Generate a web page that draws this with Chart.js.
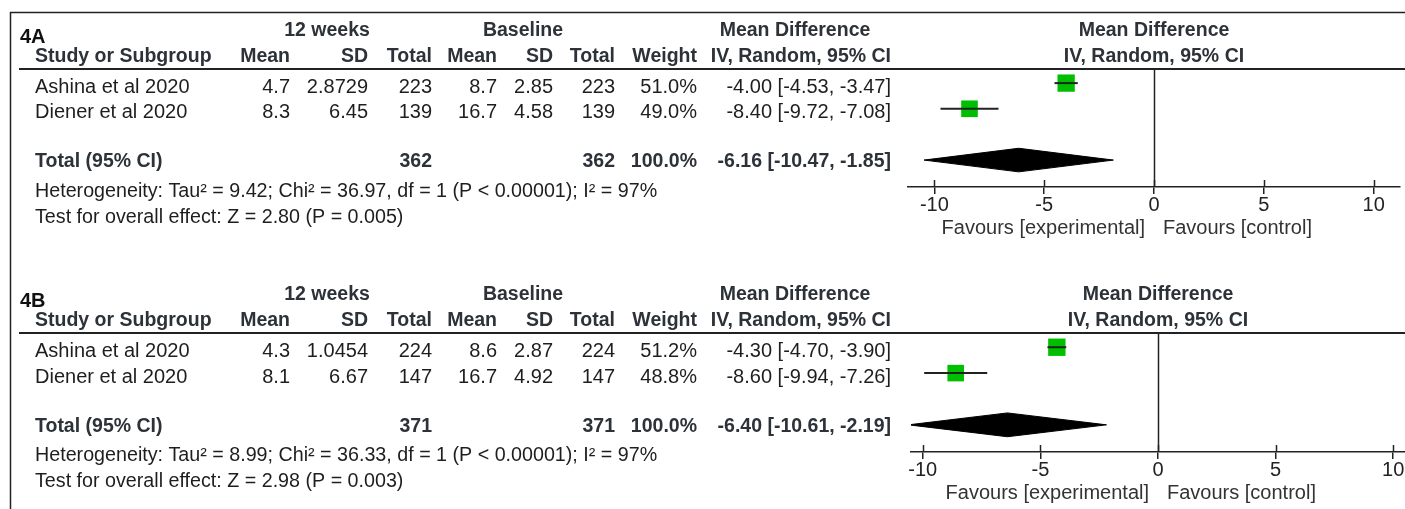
<!DOCTYPE html>
<html>
<head>
<meta charset="utf-8">
<script src="https://cdn.jsdelivr.net/npm/chart.js@4.4.1/dist/chart.umd.min.js"></script>
<style>
  html, body { margin:0; padding:0; background:#fff; }
  #wrap { position:relative; width:1405px; height:509px; overflow:hidden; }
  canvas { position:absolute; left:0; }
  #panelA { top:0; }
  #panelB { top:264px; }
</style>
</head>
<body>
<div id="wrap">
  <canvas id="panelA" width="1405" height="264"></canvas>
  <canvas id="panelB" width="1405" height="245"></canvas>
</div>
<script>
// ===== data =====
const studies = ["Ashina et al 2020", "Diener et al 2020"];
const xTicks = [-10, -5, 0, 5, 10];

// 4A
const expMeanA = [4.7, 8.3];
const expSdA = [2.8729, 6.45];
const expNA = [223, 139];
const baseMeanA = [8.7, 16.7];
const baseSdA = [2.85, 4.58];
const baseNA = [223, 139];
const weightA = [51.0, 49.0];
const mdA = [-4.00, -8.40];
const loA = [-4.53, -9.72];
const hiA = [-3.47, -7.08];
const totalA = [-6.16, -10.47, -1.85]; // estimate, lower, upper
const hetA = [9.42, 36.97, 1, 97];     // tau², chi², df, I²
const zA = 2.80, pA = "0.005";

// 4B
const expMeanB = [4.3, 8.1];
const expSdB = [1.0454, 6.67];
const expNB = [224, 147];
const baseMeanB = [8.6, 16.7];
const baseSdB = [2.87, 4.92];
const baseNB = [224, 147];
const weightB = [51.2, 48.8];
const mdB = [-4.30, -8.60];
const loB = [-4.70, -9.94];
const hiB = [-3.90, -7.26];
const totalB = [-6.40, -10.61, -2.19];
const hetB = [8.99, 36.33, 1, 97];
const zB = 2.98, pB = "0.003";

// ===== styling =====
const FONT = '"Liberation Sans", Arial, sans-serif';
const INK = "#1e1e1e";
const HEAD = "#2d3238";
const GREEN = "#00bf00";
const DIAMOND_H = 0.46;
const cols = { mean1: 290, sd1: 368, n1: 432, mean2: 497, sd2: 553, n2: 615, weight: 697, ci: 891 };

function put(ctx, s, x, y, align, bold, color, size) {
  ctx.font = (bold ? "bold " : "") + size + "px " + FONT;
  ctx.textAlign = align;
  ctx.textBaseline = "middle";
  ctx.fillStyle = color;
  ctx.fillText(s, x, y);
}
const ci = (m, l, h) => m.toFixed(2) + " [" + l.toFixed(2) + ", " + h.toFixed(2) + "]";

function makePanel(id, p) {
  const datasets = [];
  p.md.forEach((v, i) => {
    datasets.push({
      data: [{x: p.lo[i], y: i + 1}, {x: p.hi[i], y: i + 1}],
      borderColor: "#222", borderWidth: 2, pointRadius: 0, fill: false
    });
  });
  datasets.push({
    data: p.md.map((v, i) => ({x: v, y: i + 1})),
    showLine: false, pointStyle: "rect",
    pointRadius: p.weight.map(w => w / 50 * 12),
    pointBackgroundColor: GREEN, pointBorderWidth: 0, borderWidth: 0
  });
  const [est, lo, hi] = p.total;
  datasets.push({
    data: [{x: lo, y: 4}, {x: est, y: 4 - DIAMOND_H}, {x: hi, y: 4}, {x: est, y: 4 + DIAMOND_H}, {x: lo, y: 4}],
    borderColor: "#000", backgroundColor: "#000", borderWidth: 1,
    pointRadius: 0, fill: "shape", tension: 0
  });

  const table = {
    id: "forestTable",
    beforeDatasetsDraw(chart) {
      const ctx = chart.ctx, a = chart.chartArea;
      const x0 = Math.round(chart.scales.x.getPixelForValue(0)) + 0.5;
      ctx.save();
      ctx.strokeStyle = "#222"; ctx.lineWidth = 1.5;
      ctx.beginPath(); ctx.moveTo(x0, a.top); ctx.lineTo(x0, a.bottom); ctx.stroke();
      ctx.restore();
    },
    afterDraw(chart) {
      const ctx = chart.ctx, a = chart.chartArea, xs = chart.scales.x, ys = chart.scales.y;
      const T = a.top;
      ctx.save();
      // frame
      ctx.strokeStyle = "#222"; ctx.lineWidth = 1.5;
      ctx.beginPath();
      if (p.frameTop) { ctx.moveTo(10, 12.5); ctx.lineTo(1405, 12.5); ctx.moveTo(10.5, 12); }
      else ctx.moveTo(10.5, 0);
      ctx.lineTo(10.5, chart.height);
      ctx.stroke();
      // header rule
      ctx.lineWidth = 2;
      ctx.beginPath(); ctx.moveTo(19, T); ctx.lineTo(1405, T); ctx.stroke();
      // upper halves of the tick marks
      ctx.lineWidth = 1.5;
      xTicks.forEach(v => {
        const x = Math.round(xs.getPixelForValue(v)) + 0.5;
        ctx.beginPath(); ctx.moveTo(x, a.bottom - 7); ctx.lineTo(x, a.bottom); ctx.stroke();
      });

      // headings
      put(ctx, p.label, 20, T - 32, "left", true, "#111", 20);
      put(ctx, "12 weeks", 327, T - 38, "center", true, HEAD, 19.5);
      put(ctx, "Baseline", 523, T - 38, "center", true, HEAD, 19.5);
      put(ctx, "Mean Difference", 795, T - 38, "center", true, HEAD, 19.5);
      const mid = (a.left + a.right) / 2;
      put(ctx, "Mean Difference", mid, T - 38, "center", true, HEAD, 19.5);
      put(ctx, "Study or Subgroup", 35, T - 12, "left", true, HEAD, 19.5);
      put(ctx, "Mean", cols.mean1, T - 12, "right", true, HEAD, 19.5);
      put(ctx, "SD", cols.sd1, T - 12, "right", true, HEAD, 19.5);
      put(ctx, "Total", cols.n1, T - 12, "right", true, HEAD, 19.5);
      put(ctx, "Mean", cols.mean2, T - 12, "right", true, HEAD, 19.5);
      put(ctx, "SD", cols.sd2, T - 12, "right", true, HEAD, 19.5);
      put(ctx, "Total", cols.n2, T - 12, "right", true, HEAD, 19.5);
      put(ctx, "Weight", cols.weight, T - 12, "right", true, HEAD, 19.5);
      put(ctx, "IV, Random, 95% CI", cols.ci, T - 12, "right", true, HEAD, 19.5);
      put(ctx, "IV, Random, 95% CI", mid, T - 12, "center", true, HEAD, 19.5);

      // study rows
      studies.forEach((s, i) => {
        const y = ys.getPixelForValue(i + 1) + 4;
        put(ctx, s, 35, y, "left", false, INK, 20);
        put(ctx, String(p.expMean[i]), cols.mean1, y, "right", false, INK, 20);
        put(ctx, String(p.expSd[i]), cols.sd1, y, "right", false, INK, 20);
        put(ctx, String(p.expN[i]), cols.n1, y, "right", false, INK, 20);
        put(ctx, String(p.baseMean[i]), cols.mean2, y, "right", false, INK, 20);
        put(ctx, String(p.baseSd[i]), cols.sd2, y, "right", false, INK, 20);
        put(ctx, String(p.baseN[i]), cols.n2, y, "right", false, INK, 20);
        put(ctx, p.weight[i].toFixed(1) + "%", cols.weight, y, "right", false, INK, 20);
        put(ctx, ci(p.md[i], p.lo[i], p.hi[i]), cols.ci, y, "right", false, INK, 20);
      });

      // total row
      const yt = ys.getPixelForValue(4) + 2;
      const sum = arr => arr.reduce((s, v) => s + v, 0);
      put(ctx, "Total (95% CI)", 35, yt, "left", true, HEAD, 19.5);
      put(ctx, String(sum(p.expN)), cols.n1, yt, "right", true, HEAD, 19.5);
      put(ctx, String(sum(p.baseN)), cols.n2, yt, "right", true, HEAD, 19.5);
      put(ctx, sum(p.weight).toFixed(1) + "%", cols.weight, yt, "right", true, HEAD, 19.5);
      put(ctx, ci(est, lo, hi), cols.ci, yt, "right", true, HEAD, 19.5);

      const [tau2, chi2, df, i2] = p.het;
      put(ctx, "Heterogeneity: Tau\u00b2 = " + tau2.toFixed(2) + "; Chi\u00b2 = " + chi2.toFixed(2) +
        ", df = " + df + " (P < 0.00001); I\u00b2 = " + i2 + "%", 35, T + 123, "left", false, INK, 19.7);
      put(ctx, "Test for overall effect: Z = " + p.z.toFixed(2) + " (P = " + p.p + ")", 35, T + 149, "left", false, INK, 19.7);

      // favours labels
      const x0 = xs.getPixelForValue(0);
      put(ctx, "Favours [experimental]", x0 - 9, a.bottom + 41, "right", false, "#333", 20);
      put(ctx, "Favours [control]", x0 + 9, a.bottom + 41, "left", false, "#333", 20);
      ctx.restore();
    }
  };

  return new Chart(document.getElementById(id), {
    type: "line",
    data: { datasets: datasets },
    options: {
      responsive: false, animation: false, events: [],
      layout: { autoPadding: false, padding: { left: p.left, right: 1405 - p.right, top: 69, bottom: p.padBottom } },
      plugins: { legend: { display: false }, tooltip: { enabled: false } },
      scales: {
        x: {
          type: "linear", min: -p.range, max: p.range,
          afterBuildTicks: s => { s.ticks = xTicks.map(v => ({ value: v })); },
          afterFit: s => { s.height = 40; s.paddingLeft = 0; s.paddingRight = 0; },
          ticks: { color: "#222", font: { family: FONT, size: 20 }, padding: -1, maxRotation: 0, autoSkip: false },
          grid: { drawOnChartArea: false, tickLength: 7, color: "#222", lineWidth: 1.5 },
          border: { display: true, color: "#222", width: 1.5 }
        },
        y: { type: "linear", min: 0.45, max: 5.05, reverse: true, display: false }
      }
    },
    plugins: [table]
  });
}

makePanel("panelA", {
  label: "4A", frameTop: true, left: 908, right: 1400, range: 11.2, padBottom: 37,
  expMean: expMeanA, expSd: expSdA, expN: expNA, baseMean: baseMeanA, baseSd: baseSdA, baseN: baseNA,
  weight: weightA, md: mdA, lo: loA, hi: hiA, total: totalA, het: hetA, z: zA, p: pA
});
makePanel("panelB", {
  label: "4B", frameTop: false, left: 911, right: 1405, range: 10.5, padBottom: 17,
  expMean: expMeanB, expSd: expSdB, expN: expNB, baseMean: baseMeanB, baseSd: baseSdB, baseN: baseNB,
  weight: weightB, md: mdB, lo: loB, hi: hiB, total: totalB, het: hetB, z: zB, p: pB
});
</script>
</body>
</html>
